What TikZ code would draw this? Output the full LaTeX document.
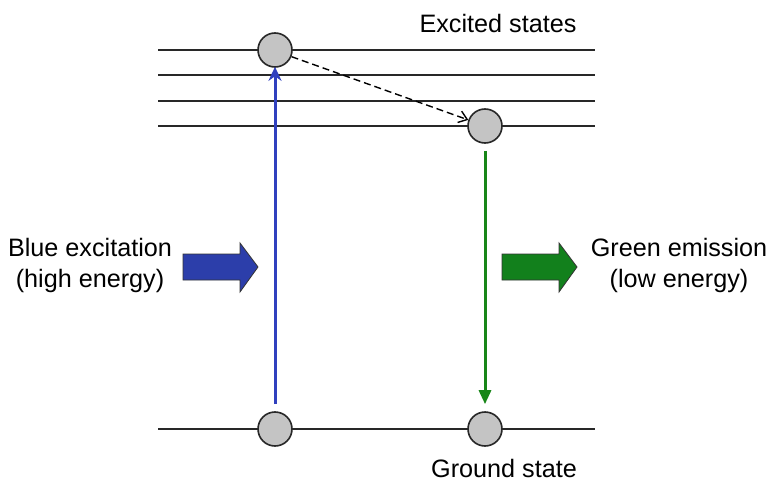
\documentclass[tikz,border=0pt]{standalone}
\usepackage{fontspec}
\setmainfont{Liberation Sans}
\usepackage{tikz}
\usetikzlibrary{arrows.meta, positioning, calc}
\definecolor{levelgray}{RGB}{40,40,40}
\definecolor{ballgray}{RGB}{196,196,196}
\definecolor{exblue}{RGB}{48,64,190}
\definecolor{fatblue}{RGB}{44,62,170}
\definecolor{emgreen}{RGB}{24,134,24}
\definecolor{fatgreen}{RGB}{18,128,28}

\tikzset{
  level/.style={draw=levelgray,line width=2pt},
  ball/.style={draw=levelgray,fill=ballgray,shape=circle,line width=1.6pt,minimum size=34pt,inner sep=0pt},
  fatarrow/.style={draw=black!80,line width=0.8pt,line join=miter},
  label/.style={font=\fontsize{25.2}{31}\selectfont,align=center}
}

\begin{document}
\begin{tikzpicture}[x=1pt,y=-1pt]
  \useasboundingbox (0,0) rectangle (771,484);
  % energy levels
  \foreach \y in {50,75,101,126,429}
    \draw[level] (158,\y) -- (595,\y);
%---------------------------------------------------------------------------
  \node[ball] (e1) at (275,50) {};
  \node[ball] (e2) at (485,126) {};
  \node[ball] (g1) at (275,429) {};
  \node[ball] (g2) at (485,429) {};
%---------------------------------------------------------------------------
  \draw[exblue,line width=3pt,-{Stealth[length=14pt,width=13pt]}] ([yshift=7pt]g1.north) -- ([yshift=1pt]e1.south);
  \draw[emgreen,line width=3pt,-{Triangle[length=14pt,width=12pt]}] ([yshift=-7pt]e2.south) -- ([yshift=7pt]g2.north);
  \draw[black,line width=1.4pt,dash pattern=on 7pt off 4pt,-{Straight Barb[length=8pt,width=12pt]}] (e1.-22) -- (e2.160);
%---------------------------------------------------------------------------
  \draw[fatarrow,fill=fatblue] (183,254) -- (240,254) -- (240,243) -- (258,267) -- (240,292) -- (240,280) -- (183,280) -- cycle;
  \draw[fatarrow,fill=fatgreen] (502,254) -- (559,254) -- (559,243) -- (577,267) -- (559,292) -- (559,280) -- (502,280) -- cycle;
%---------------------------------------------------------------------------
  \node[label] (blue) at (90,265) {Blue excitation\\(high energy)};
  \node[label] (green) at (679,265) {Green emission\\(low energy)};
  \node[label] (excited) at (498,23) {Excited states};
  \node[label,anchor=base,inner sep=0pt] (ground) at (504,477) {Ground state};
\end{tikzpicture}
\end{document}
